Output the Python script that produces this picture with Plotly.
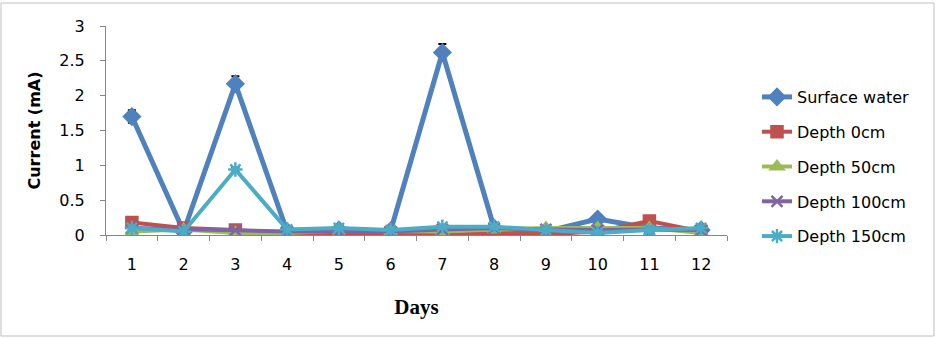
import plotly.graph_objects as go

days = list(range(1, 13))
surface_water = [1.70, 0.05, 2.17, 0.05, 0.07, 0.06, 2.62, 0.10, 0.05, 0.23, 0.10, 0.07]
surface_err = [0.09, 0.0, 0.11, 0.0, 0.0, 0.0, 0.12, 0.0, 0.0, 0.0, 0.0, 0.0]
depth_0 = [0.18, 0.10, 0.07, 0.02, 0.00, 0.03, 0.00, 0.03, 0.01, 0.05, 0.20, 0.05]
depth_50 = [0.05, 0.08, 0.03, 0.03, 0.06, 0.05, 0.05, 0.08, 0.10, 0.10, 0.10, 0.03]
depth_100 = [0.10, 0.08, 0.07, 0.05, 0.05, 0.05, 0.08, 0.10, 0.08, 0.07, 0.08, 0.07]
depth_150 = [0.10, 0.05, 0.94, 0.08, 0.10, 0.07, 0.12, 0.12, 0.07, 0.03, 0.07, 0.10]
depth_150_err = [0.0, 0.0, 0.03, 0.0, 0.0, 0.0, 0.0, 0.0, 0.0, 0.0, 0.0, 0.0]

series = [
    ("Surface water", surface_water, "#4F81BD", "diamond", 12, 5, surface_err),
    ("Depth 0cm", depth_0, "#C0504D", "square", 11, 4, None),
    ("Depth 50cm", depth_50, "#9BBB59", "triangle-up", 11, 4, None),
    ("Depth 100cm", depth_100, "#8064A2", "x-thin-open", 11, 4, None),
    ("Depth 150cm", depth_150, "#4BACC6", "asterisk-open", 12, 4, depth_150_err),
]

fig = go.Figure()
for i, (name, vals, color, sym, size, lw, err) in enumerate(series):
    kw = {}
    if err is not None:
        kw["error_y"] = dict(type="data", array=err, visible=True, color="black",
                             thickness=2, width=4)
    fig.add_trace(go.Scatter(
        x=days, y=vals, name=name, mode="lines+markers",
        line=dict(color=color, width=lw),
        marker=dict(symbol=sym, size=size, color=color,
                    line=dict(color=color, width=2.5)),
        legendgroup=f"g{i}",
        **kw,
    ))

L, R, T, B = 106, 727, 26, 235
W, H = R - L, B - T


def px(x):
    return (x - L) / W


def py(y):
    return (B - y) / H


fig.update_layout(
    width=940, height=338,
    margin=dict(l=L, r=940 - R, t=T, b=338 - B),
    paper_bgcolor="white", plot_bgcolor="white",
    font=dict(family="DejaVu Sans", size=15, color="#000000"),
    showlegend=True,
    legend=dict(x=px(757), y=py(80), xanchor="left", yanchor="top",
                font=dict(family="DejaVu Sans", size=16),
                tracegroupgap=11, bgcolor="rgba(0,0,0,0)",
                itemwidth=30),
    xaxis=dict(
        range=[0.5, 12.5], tickmode="array", tickvals=days,
        ticktext=[str(d) for d in days], ticks="", showgrid=False,
        showline=True, linecolor="#868686", linewidth=1, zeroline=False,
        tickfont=dict(size=16), ticklabelstandoff=15,
        minor=dict(tickmode="linear", tick0=0.5, dtick=1, ticks="outside",
                   ticklen=5, tickcolor="#868686", showgrid=False),
        title=dict(text="<b>Days</b>", font=dict(family="Liberation Serif", size=21),
                   standoff=26),
    ),
    yaxis=dict(
        range=[0, 3], tickmode="linear", tick0=0, dtick=0.5,
        ticks="outside", ticklen=5, tickcolor="#868686",
        showgrid=False, showline=True, linecolor="#868686", linewidth=1,
        zeroline=False, tickfont=dict(size=16), ticklabelstandoff=12,
        title=dict(text="<b>Current (mA)</b>", font=dict(size=16), standoff=14),
    ),
    shapes=[dict(type="rect", xref="paper", yref="paper",
                 x0=px(1), x1=px(934), y0=py(336), y1=py(3),
                 line=dict(color="#BFBFBF", width=1), layer="below")],
)

fig.write_html("out.html")
